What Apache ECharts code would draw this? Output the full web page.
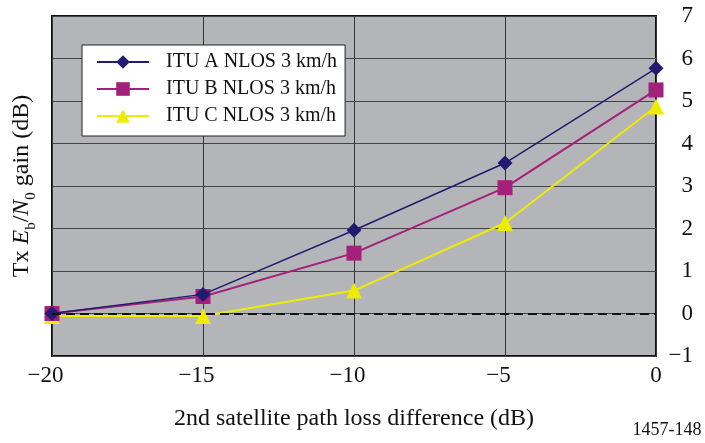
<!DOCTYPE html>
<html><head><meta charset="utf-8">
<script src="https://cdn.jsdelivr.net/npm/echarts@6/dist/echarts.min.js"></script>
<style>html,body{margin:0;padding:0;background:#fff}#c{width:705px;height:443px}</style>
</head><body><div id="c"></div>
<script>
var xValues = [-20, -15, -10, -5, 0];
var ituA = [0.0, 0.45, 1.96, 3.54, 5.77];
var ituB = [0.0, 0.40, 1.42, 2.96, 5.26];
var ituC = [-0.06, -0.06, 0.54, 2.13, 4.87];
var seriesNames = ['ITU A NLOS 3 km/h', 'ITU B NLOS 3 km/h', 'ITU C NLOS 3 km/h'];
var xTitle = '2nd satellite path loss difference (dB)';
var figId = '1457-148';

function pairs(v){ return xValues.map(function(x,i){ return [x, v[i]]; }); }
function minus(v){ return String(v).replace('-', '\u2212'); }
function xLabel(v){ return v < 0 ? '{n|\u2212' + Math.abs(v) + '}' : '{p|' + v + '}'; }
var serif = 'Liberation Serif';
var chart = echarts.init(document.getElementById('c'), null, {renderer:'canvas'});
chart.setOption({
  animation: false,
  backgroundColor: '#ffffff',
  grid: {left: 52, right: 49, top: 16, bottom: 87, show: true, backgroundColor: '#b4b5b9', borderColor: '#111', borderWidth: 2},
  legend: {
    left: 82, top: 45, orient: 'vertical',
    backgroundColor: '#ffffff', borderColor: '#222', borderWidth: 1,
    padding: [6, 8, 9, 14], itemGap: 5, itemWidth: 52, itemHeight: 17,
    textStyle: {fontFamily: serif, fontSize: 20, color: '#111', padding: [0,0,0,12], lineHeight: 22},
    data: seriesNames
  },
  xAxis: {
    type: 'value', min: -20, max: 0, interval: 5,
    axisLine: {show: false}, axisTick: {show: false},
    axisLabel: {fontFamily: serif, fontSize: 23, color: '#111', margin: 8, formatter: xLabel,
      rich: {n: {fontFamily: serif, fontSize: 23, color: '#111', padding: [0, 13, 0, 0]},
             p: {fontFamily: serif, fontSize: 23, color: '#111'}}},
    splitLine: {show: true, lineStyle: {color: '#333', width: 1}},
    name: xTitle, nameLocation: 'middle', nameGap: 51,
    nameTextStyle: {fontFamily: serif, fontSize: 24, color: '#111'}
  },
  yAxis: {
    type: 'value', position: 'right', min: -1, max: 7, interval: 1,
    axisLine: {show: false}, axisTick: {show: false},
    axisLabel: {fontFamily: serif, fontSize: 23, color: '#111', align: 'right', margin: 37, formatter: minus},
    splitLine: {show: true, lineStyle: {color: '#444', width: 1}}
  },
  graphic: [
    {type: 'text', x: 22, y: 186, rotation: Math.PI/2, style: {
      text: 'Tx {i|E}{s|b}/{i|N}{s|0} gain (dB)', align: 'center', verticalAlign: 'middle',
      fontFamily: serif, fontSize: 24, fill: '#111',
      rich: {
        i: {fontFamily: serif, fontSize: 24, fontStyle: 'italic', fill: '#111', lineHeight: 28},
        s: {fontFamily: serif, fontSize: 15, fill: '#111', verticalAlign: 'bottom', lineHeight: 15, padding: [0,0,-3,0]}
      }
    }},
    {type: 'text', x: 667, y: 430, style: {text: figId, align: 'center', verticalAlign: 'middle', fontFamily: serif, fontSize: 18, fill: '#111'}}
  ],
  series: [
    {name: seriesNames[0], type: 'line', data: pairs(ituA), symbol: 'diamond', symbolSize: 15,
     lineStyle: {color: '#231b70', width: 1.5}, itemStyle: {color: '#231b70'}, z: 4,
     markLine: {silent: true, symbol: 'none', label: {show: false},
       lineStyle: {color: '#111', type: [9, 5], width: 2}, data: [{yAxis: 0}]}},
    {name: seriesNames[1], type: 'line', data: pairs(ituB), symbol: 'rect', symbolSize: 15,
     lineStyle: {color: '#a3217b', width: 2}, itemStyle: {color: '#a3217b'}, z: 3},
    {name: seriesNames[2], type: 'line', data: pairs(ituC), symbol: 'triangle', symbolSize: 16,
     lineStyle: {color: '#f0ec00', width: 2}, itemStyle: {color: '#f0ec00'}, z: 2}
  ]
});
</script></body></html>
